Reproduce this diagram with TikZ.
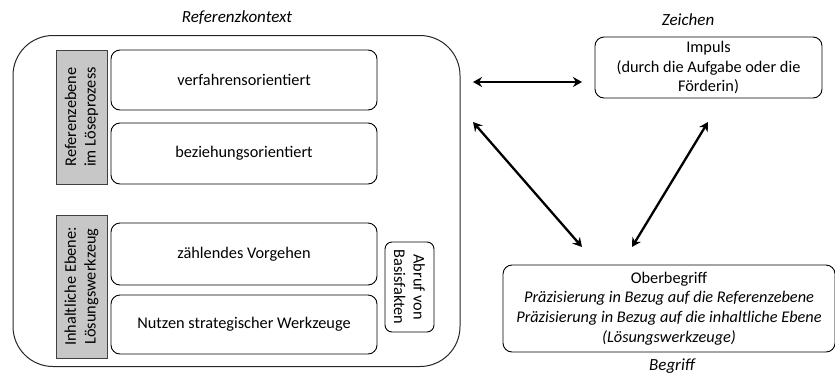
\documentclass[tikz,border=0pt]{standalone}
\usepackage{fontspec}
\setmainfont{Carlito}
\usetikzlibrary{arrows.meta}
\begin{document}
\begin{tikzpicture}[x=1pt,y=-1pt,
  every node/.style={font=\fontsize{16.3}{19.6}\selectfont, align=center, inner sep=0pt},
  wbox/.style={draw=black, line width=0.9pt, rounded corners=9pt},
  gbox/.style={draw=black!75, line width=0.9pt, fill=black!22},
  lbl/.style={font=\fontsize{17}{20}\selectfont\itshape},
  arr/.style={{Stealth[length=9pt,width=10pt]}-{Stealth[length=9pt,width=10pt]}, line width=2.3pt}]
\useasboundingbox (0,0) rectangle (835,378);
% outer
\node[draw=black!85, line width=1pt, rounded corners=40pt, minimum width=447pt, minimum height=331pt] (outer) at (236.5,201) {};
\node[lbl] (rk) at (237,18) {Referenzkontext};
% gray labels
\node[gbox, minimum width=51pt, minimum height=134pt] (g1) at (81.5,117) {};
\node[rotate=90] (g1t) at (g1.center) {Referenzebene\\im Löseprozess};
\node[gbox, minimum width=51pt, minimum height=143pt] (g2) at (81.5,286.5) {};
\node[rotate=90] (g2t) at (g2.center) {Inhaltliche Ebene:\\Lösungswerkzeug};
% boxes
\node[wbox, minimum width=266pt, minimum height=60pt] (v) at (244,80) {verfahrensorientiert};
\node[wbox, minimum width=266pt, minimum height=61pt] (b) at (244,153.5) {beziehungsorientiert};
\node[wbox, minimum width=266pt, minimum height=62pt] (z) at (244,254) {zählendes Vorgehen};
\node[wbox, minimum width=266pt, minimum height=59pt] (n) at (244,324.5) {Nutzen strategischer Werkzeuge};
\node[wbox, rounded corners=7pt, minimum width=49pt, minimum height=90pt] (a) at (409.5,287) {};
\node[rotate=-90] (at) at (a.center) {Abruf von\\Basisfakten};
% right
\node[lbl] (zl) at (688,20) {Zeichen};
\node[wbox, minimum width=227pt, minimum height=61pt] (imp) at (708.5,67.5) {Impuls\\(durch die Aufgabe oder die\\Förderin)};
\node[wbox, minimum width=332pt, minimum height=87pt] (ob) at (669,308.5) {Oberbegriff\\\textit{Präzisierung in Bezug auf die Referenzebene}\\\textit{Präzisierung in Bezug auf die inhaltliche Ebene}\\\textit{(Lösungswerkzeuge)}};
\node[lbl] (bl) at (672,366) {Begriff};
% arrows
\coordinate (h1) at (473,82);
\coordinate (h2) at (582,82);
\coordinate (d1) at (473,122);
\coordinate (d2) at (582,247);
\coordinate (e1) at (708,122);
\coordinate (e2) at (632,247);
\draw[arr] (h1) -- (h2);
\draw[arr] (d1) -- (d2);
\draw[arr] (e1) -- (e2);
\end{tikzpicture}
\end{document}
